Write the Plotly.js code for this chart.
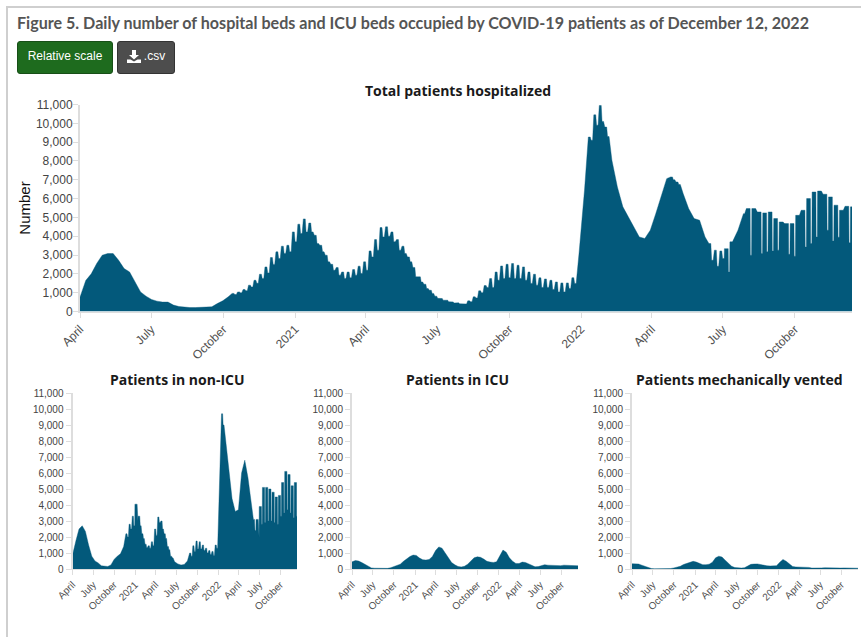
<!DOCTYPE html>
<html><head><meta charset="utf-8">
<script src="https://cdn.plot.ly/plotly-3.0.1.min.js"></script>
<style>
html,body{margin:0;padding:0;background:#fff;overflow:hidden}
#chart{position:absolute;left:0;top:0;width:861px;height:637px}
#frame{position:absolute;left:6px;top:6px;width:860px;height:640px;border:2px solid #cfcfcf;box-sizing:border-box;pointer-events:none}
.btn{position:absolute;top:41px;height:33px;box-sizing:border-box;border-radius:3px;color:#fff;font:12px "Liberation Sans",Arial,sans-serif;display:flex;align-items:center;justify-content:center;border:1px solid #333;padding-bottom:3px}
#rel{left:17px;width:96px;background:#1e6b1e;border-color:#174f17}
#csv{left:117px;width:58px;background:#4d4d4d}
#csv svg{margin-right:3px}
</style></head><body>
<div id="chart"></div>
<div id="frame"></div>
<div id="rel" class="btn">Relative scale</div>
<div id="csv" class="btn"><svg width="14" height="13" viewBox="0 0 14 13"><path d="M5 0h4v5h3L7 9.5 2 5h3zM0 9.5h3.5L7 11.5l3.5-2H14V13H0z" fill="#fff"/></svg>.csv</div>
<script>
const startDate = '2020-04-01';
const endDate = '2022-12-13';
const figureTitle = 'Figure 5. Daily number of hospital beds and ICU beds occupied by COVID-19 patients as of December 12, 2022';
const panelTitles = ['Total patients hospitalized','Patients in non-ICU','Patients in ICU','Patients mechanically vented'];
const tickDates = ['2020-04-01','2020-07-01','2020-10-01','2021-01-01','2021-04-01','2021-07-01','2021-10-01','2022-01-01','2022-04-01','2022-07-01','2022-10-01'];
const tickLabels = ['April','July','October','2021','April','July','October','2022','April','July','October'];

// Total: one reading per week, the weekly high and the weekly dip
const totalHigh = [800,1650,2000,2550,2990,3080,3080,2720,2280,2100,1570,1040,815,640,550,500,500,340,265,230,210,210,210,250,250,420,570,780,960,1040,1170,1400,1660,1980,2370,2870,3170,3470,3520,4230,4640,4920,4700,4050,3520,2990,2510,2340,2100,2100,2230,2410,2640,3220,3820,4460,4500,4230,3820,3470,2900,2340,1840,1450,1130,815,690,600,510,460,430,566,780,1100,1380,1750,2100,2420,2510,2550,2460,2370,2100,1980,1790,1730,1660,1570,1520,1520,1800,3080,6440,9270,10450,10950,9800,8040,6620,5560,5030,4500,3960,3880,4320,5200,6180,7060,7150,6880,6270,5470,4940,4850,3960,3610,3260,3220,3340,3700,4320,5200,5470,5470,5290,5240,5290,4940,4760,4670,4670,5110,5380,6000,6350,6400,6230,6090,5650,5380,5590,5560,5470];
const totalLow = [800,1650,2000,2550,2990,3080,3080,2720,2280,2100,1570,1040,815,640,550,500,500,340,265,230,210,210,210,250,250,420,570,780,900,1000,1100,1300,1500,1750,2050,2500,2810,3080,3170,3700,4140,4230,4230,3610,3170,2640,2190,1930,1750,1790,1930,2020,2190,2900,3260,3960,4000,3700,3260,3080,2640,1840,1570,1220,960,700,600,520,450,410,400,520,720,1000,1280,1270,1660,1750,1800,1750,1750,1660,1490,1400,1270,1270,1170,1040,1040,1220,1490,3080,6440,9100,9900,10100,9300,8040,6620,5560,5030,4500,3960,3880,4320,5200,6180,7060,7000,6750,6270,5470,4940,4850,3960,2720,2400,2810,2100,3700,4320,5200,2990,5470,3080,3170,3220,3260,4760,3040,2940,5110,3430,3610,3960,6400,4320,3750,3950,5380,3650,5560,3430];

// Sub-panels: one reading per two weeks
const nonIcuHigh = [900,1750,2500,2700,2350,1500,800,500,380,200,160,160,250,600,800,950,1400,2200,2800,3300,4050,3300,2200,1550,1450,1700,2500,3250,3000,2200,1400,800,450,320,250,280,500,1000,1450,1750,1700,1500,1300,1150,1100,1500,5500,9700,8000,6000,4400,3600,3700,6000,6800,5700,4100,3100,3100,3900,5100,5100,5000,4800,4500,4600,5400,6100,5900,5200,5400];
const nonIcuLow = [900,1750,2500,2700,2350,1500,800,500,380,200,160,160,250,600,800,950,1400,2000,2500,2700,3000,2700,1900,1350,1300,1450,2100,2900,2500,1900,1200,700,450,320,250,280,500,800,1100,1250,1250,1150,1000,900,850,1300,5500,9000,8000,6000,4400,3600,3700,6000,6800,5700,4100,2400,2000,2800,2900,3000,3000,2900,2800,3300,3500,3700,3500,3200,3300];
const icuValues = [450,530,500,400,300,180,70,50,40,30,30,40,80,170,220,300,480,650,780,870,850,680,580,560,600,780,1150,1380,1300,1000,680,400,260,160,130,170,300,520,700,760,730,620,480,430,410,450,800,1180,1050,700,480,350,340,430,410,320,200,140,150,210,270,240,230,200,200,210,240,230,230,220,200];
const ventedValues = [330,350,310,240,160,70,30,20,15,10,10,15,30,70,110,170,280,360,430,480,430,330,270,270,300,420,700,800,750,550,330,170,90,60,60,80,160,290,310,320,280,230,200,190,190,210,420,600,480,300,160,130,120,140,130,100,60,50,50,70,80,70,60,50,50,60,70,70,60,60,50];

const DAY = 86400000, T0 = Date.parse(startDate + 'T00:00:00Z');
const iso = ms => new Date(ms).toISOString().slice(0, 19).replace('T', ' ');
const FILL = '#03597b';
const BIG_DIP = 1000;

// An area drawn through the readings. Small dips read as a comb of narrow teeth;
// large dips read as a thin slot cut into an otherwise level top.
function areaTrace(high, low, stepDays, axisId) {
  const x = [iso(T0)], y = [high[0]];
  const add = (ms, v) => { x.push(iso(ms)); y.push(v); };
  const step = stepDays * DAY;
  const big = i => i >= 0 && i < high.length && high[i] - low[i] >= BIG_DIP;
  high.forEach((v, i) => {
    const s = T0 + (i - 0.45) * step, d = v - low[i];
    if (d === 0) {
      if (big(i - 1)) add(s + 0.03 * step, v);
      add(s + 0.5 * step, v);
      if (big(i + 1)) add(s + 0.72 * step, v);
    } else if (d < BIG_DIP) {
      if (big(i - 1)) add(s + 0.03 * step, v); else add(s + 0.2 * step, v);
      add(s + 0.55 * step, v);
      add(s + 0.7 * step, low[i]);
      add(s + 0.98 * step, low[i]);
    } else {
      add(s + 0.03 * step, v);
      add(s + 0.72 * step, v);
      add(s + 0.76 * step, low[i]);
      add(s + 0.98 * step, low[i]);
    }
  });
  add(Date.parse(endDate + 'T12:00:00Z'), high[high.length - 1]);
  return {type:'scatter', mode:'lines', x, y, fill:'tozeroy', fillcolor:FILL,
    line:{color:FILL, width:0.4, shape:'linear'}, xaxis:'x'+axisId, yaxis:'y'+axisId,
    hoverinfo:'x+y', showlegend:false};
}

const traces = [
  areaTrace(totalHigh, totalLow, 7, ''),
  areaTrace(nonIcuHigh, nonIcuLow, 14, '2'),
  areaTrace(icuValues, icuValues, 14, '3'),
  areaTrace(ventedValues, ventedValues, 14, '4')
];

const W = 861, H = 637;
const dx = (a, b) => [a / W, b / W];
const dy = (top, bot) => [1 - bot / H, 1 - top / H];

function xAxis(dom, anchor, size) {
  return {type:'date', domain:dom, anchor, range:[startDate, endDate], tickmode:'array',
    tickvals:tickDates, ticktext:tickLabels, tickangle:-45, ticks:'outside', ticklen:5,
    tickcolor:'#dddddd', showline:true, linecolor:'#dddddd', linewidth:1, showgrid:false, zeroline:false,
    tickfont:{family:'"Liberation Sans",Arial,sans-serif', size, color:'#505050'}};
}
function yAxis(dom, anchor, size) {
  return {domain:dom, anchor, range:[0, 11000], dtick:1000, tick0:0, tickformat:',d', ticks:'outside', ticklen:5,
    tickcolor:'#dddddd', showline:true, linecolor:'#dddddd', linewidth:2, showgrid:false, zeroline:false,
    tickfont:{family:'"Liberation Sans",Arial,sans-serif', size, color:'#444444'}};
}

const yMain = yAxis(dy(104.5, 311.5), 'x', 12);
yMain.ticklabelstandoff = -2;
yMain.title = {text:'Number', font:{family:'"Liberation Sans",Arial,sans-serif', size:15, color:'#111111'}, standoff:2};

const panelCentres = [458, 177, 458, 739];
const panelTops = [91, 379, 379, 379];
const annotations = panelTitles.map((t, i) => ({
  text:'<b>' + t + '</b>', xref:'paper', yref:'paper', x:panelCentres[i] / W, y:1 - panelTops[i] / H,
  xanchor:'center', yanchor:'middle', showarrow:false,
  font:{family:'"Open Sans",sans-serif', size:14, color:'#1a1a1a'}
}));

const layout = {
  width:W, height:H, margin:{l:0, r:0, t:0, b:0}, paper_bgcolor:'#fff', plot_bgcolor:'#fff',
  showlegend:false,
  title:{text:'<b>' + figureTitle + '</b>', x:17 / W, xanchor:'left', xref:'paper', y:1 - 23 / H, yanchor:'middle',
    font:{family:'Lato,sans-serif', size:16.1, color:'#555555'}},
  xaxis:xAxis(dx(80, 852), 'y', 12), yaxis:yMain,
  xaxis2:xAxis(dx(72.5, 297), 'y2', 10), yaxis2:yAxis(dy(393, 569), 'x2', 10),
  xaxis3:xAxis(dx(352, 578), 'y3', 10), yaxis3:yAxis(dy(393, 569), 'x3', 10),
  xaxis4:xAxis(dx(632, 858), 'y4', 10), yaxis4:yAxis(dy(393, 569), 'x4', 10),
  annotations
};
Plotly.newPlot('chart', traces, layout, {displayModeBar:false, responsive:false});
</script>
</body></html>
